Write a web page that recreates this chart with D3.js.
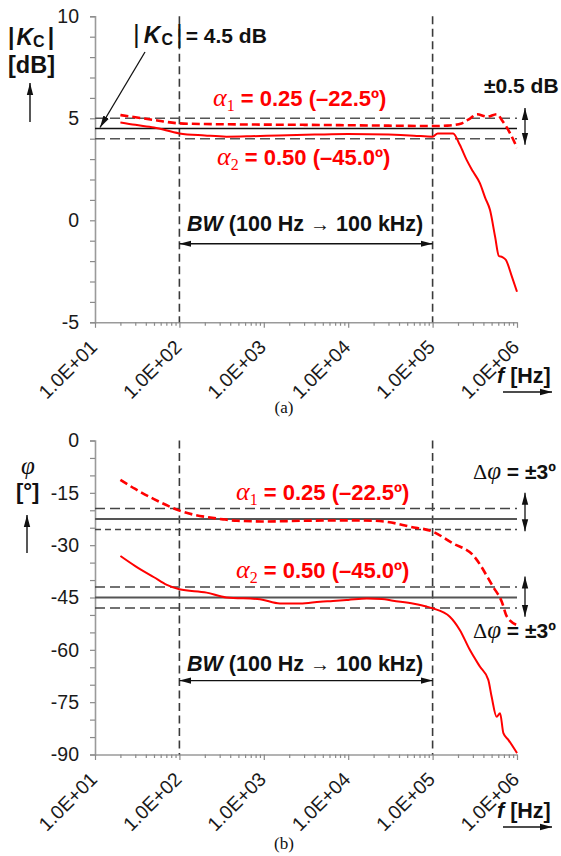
<!DOCTYPE html>
<html>
<head>
<meta charset="utf-8">
<script src="https://cdn.jsdelivr.net/npm/d3@7"></script>
<style>
  body { margin: 0; background: #fff; }
  svg { display: block; }
</style>
</head>
<body>
<svg id="fig" width="561" height="856"></svg>
<script>
// ---- Measured data: frequency [Hz] and response for the two compensators ----
// (a) magnitude |Kc| [dB]
const magFreqA1 = [20, 30, 50, 100, 200, 500, 1000, 3000, 10000, 30000, 100000, 150000, 220000, 280000, 336000, 440000, 580000, 660000, 830000, 1000000];
const magA1     = [5.16, 5.05, 4.92, 4.75, 4.72, 4.70, 4.69, 4.68, 4.66, 4.64, 4.62, 4.64, 4.75, 5.0, 5.2, 5.08, 5.2, 4.92, 4.26, 3.55];

const magFreqA2 = [20, 30, 50, 100, 200, 360, 700, 1500, 4000, 10000, 30000, 60000, 100000, 115000, 175000, 210000, 253000, 300000, 363000, 420000, 479000, 550000, 610000, 670000, 740000, 870000, 1000000];
const magA2     = [4.8, 4.68, 4.55, 4.26, 4.16, 4.1, 4.12, 4.16, 4.2, 4.23, 4.2, 4.15, 4.1, 4.26, 4.26, 3.7, 2.96, 2.4, 1.82, 1.1, 0.5, -0.8, -1.75, -1.8, -1.95, -2.76, -3.5];

// (b) phase φ [°]
const phFreqA1 = [20, 30, 50, 70, 100, 150, 220, 330, 480, 1000, 3000, 10000, 20000, 28600, 54000, 100000, 174000, 300000, 520000, 660000, 760000, 1000000];
const phA1     = [-11.3, -13.9, -16.8, -18.5, -20.1, -21.3, -22.0, -22.6, -23.0, -23.2, -23.0, -22.9, -23.0, -23.3, -24.7, -26.1, -29.5, -32.8, -41.9, -46.2, -50.5, -52.9];

const phFreqA2 = [20, 30, 50, 71, 100, 210, 360, 900, 1550, 2700, 4650, 6600, 10000, 16600, 25000, 33900, 60000, 85000, 100000, 160000, 210000, 276000, 363000, 457000, 500000, 574000, 630000, 690000, 790000, 1000000];
const phA2     = [-33.1, -36.0, -39.2, -41.4, -42.65, -43.6, -45.0, -45.5, -46.7, -46.7, -46.2, -46.0, -45.7, -45.3, -45.4, -45.9, -46.8, -47.6, -48.1, -50.5, -54.3, -60.0, -64.8, -68.6, -73.4, -79.2, -78.2, -83.9, -85.8, -89.6];

// Target levels and tolerance bands
const magTarget = 4.5, magTol = 0.5;
const phTargets = [-22.5, -45.0], phTol = 3;
const bandEdges = [100, 100000];           // BW limits [Hz]
const magTicks = d3.range(-5, 11, 1);       // every 1 dB, labelled every 5
const phTicks  = d3.range(-90, 1, 5);       // every 5°, labelled every 15
const decades  = [10, 100, 1000, 10000, 100000, 1000000];

// ---- Layout ----
const SANS = "'Liberation Sans', Arial, Helvetica, sans-serif";
const SERIF = "'Liberation Serif', 'Times New Roman', serif";
const RED = "#ff0000";
const svg = d3.select("#fig");

const x = d3.scaleLog().domain([10, 1e6]).range([95, 517]);
const yMag = d3.scaleLinear().domain([-5, 10]).range([322.3, 16.3]);
const yPh  = d3.scaleLinear().domain([-90, 0]).range([754.5, 440.5]);

// arrow markers
const defs = svg.append("defs");
function marker(id, orient) {
  defs.append("marker")
    .attr("id", id).attr("viewBox", "0 0 12 8")
    .attr("refX", 12).attr("refY", 4)
    .attr("markerWidth", 12).attr("markerHeight", 8)
    .attr("markerUnits", "userSpaceOnUse")
    .attr("orient", orient)
    .append("path").attr("d", "M0,0.8 L12,4 L0,7.2 Z").attr("fill", "#111");
}
marker("ah", "auto");
marker("ahs", "auto-start-reverse");

// log minor tick values
const xTicks = [];
decades.slice(0, -1).forEach(d => { for (let k = 1; k < 10; k++) xTicks.push(d * k); });
xTicks.push(1e6);
const isDecade = v => Math.abs(Math.log10(v) - Math.round(Math.log10(v))) < 1e-9;
const fmtE = v => "1.0E+" + String(Math.round(Math.log10(v))).padStart(2, "0");

function drawAxes(g, y, yTicks, labelEvery, y0) {
  // y axis
  const ay = g.append("g").attr("transform", `translate(${x.range()[0]},0)`)
    .call(d3.axisLeft(y).tickValues(yTicks).tickSize(5).tickPadding(11)
      .tickFormat(v => (v % labelEvery === 0 ? String(v) : "")));
  // x axis
  const ax = g.append("g").attr("transform", `translate(0,${y0})`)
    .call(d3.axisBottom(x).tickValues(xTicks).tickSizeOuter(0)
      .tickFormat(v => (isDecade(v) ? fmtE(v) : "")));
  ax.selectAll(".tick line").attr("y2", v => (isDecade(v) ? 5.5 : 3.5));
  ax.selectAll(".tick text")
    .attr("y", 0).attr("dy", 0)
    .attr("text-anchor", "end")
    .attr("transform", "translate(3,26) rotate(-45)");
  [ay, ax].forEach(a => {
    a.select(".domain").attr("stroke", "#9a9a9a").attr("stroke-width", 1.6);
    a.selectAll(".tick line").attr("stroke", "#8a8a8a").attr("stroke-width", 1.2);
    a.selectAll(".tick text").attr("fill", "#1a1a1a")
      .style("font-family", SANS).style("font-size", "19.5px");
  });
}

function hline(g, y, v, dash, color, w) {
  g.append("line")
    .attr("x1", x.range()[0]).attr("x2", x.range()[1])
    .attr("y1", y(v)).attr("y2", y(v))
    .attr("stroke", color).attr("stroke-width", w)
    .attr("stroke-dasharray", dash);
}
function vlines(g, y) {
  bandEdges.forEach(f => g.append("line")
    .attr("x1", x(f)).attr("x2", x(f))
    .attr("y1", y.range()[1]).attr("y2", y.range()[0])
    .attr("stroke", "#3a3a3a").attr("stroke-width", 1.6)
    .attr("stroke-dasharray", "8,4.5"));
}
function curve(g, fs, vs, y, dashed) {
  const pts = fs.map((f, i) => [f, vs[i]]);
  g.append("path").datum(pts)
    .attr("fill", "none").attr("stroke", RED)
    .attr("stroke-width", dashed ? 2.6 : 2)
    .attr("stroke-dasharray", dashed ? "8,4" : null)
    .attr("stroke-linejoin", "round")
    .attr("d", d3.line().x(d => x(d[0])).y(d => y(d[1])).curve(d3.curveMonotoneX));
}
function arrow(g, x1, y1, x2, y2, both, w) {
  g.append("line").attr("x1", x1).attr("y1", y1).attr("x2", x2).attr("y2", y2)
    .attr("stroke", "#111").attr("stroke-width", w || 1.3)
    .attr("marker-end", "url(#ah)")
    .attr("marker-start", both ? "url(#ahs)" : null);
}
function alphaLabel(g, px, py, idx, rest) {
  const t = g.append("text").attr("x", px).attr("y", py).attr("fill", RED);
  t.append("tspan").text("α").style("font-family", SERIF).style("font-style", "italic").style("font-size", "26px");
  t.append("tspan").text(idx).attr("dy", 5).style("font-family", SERIF).style("font-size", "16px");
  t.append("tspan").text(" = " + rest).attr("dy", -5)
    .style("font-family", SANS).style("font-weight", "bold").style("font-size", "22px");
}
function bwLabel(g, y, vText, vArrow) {
  const t = g.append("text").attr("x", 187).attr("y", y(vText)).attr("fill", "#111")
    .style("font-family", SANS).style("font-weight", "bold").style("font-size", "21.5px");
  t.append("tspan").text("BW").style("font-style", "italic");
  t.append("tspan").text(" (100 Hz ");
  t.append("tspan").text("→").style("font-weight", "normal").style("font-size", "20px");
  t.append("tspan").text(" 100 kHz)");
  arrow(g, x(bandEdges[0]), y(vArrow), x(bandEdges[1]), y(vArrow), true, 1.3);
}
function fLabel(g, yBase) {
  const t = g.append("text").attr("x", 497).attr("y", yBase).attr("fill", "#111")
    .style("font-family", SANS).style("font-weight", "bold").style("font-size", "21.5px");
  t.append("tspan").text("f").style("font-style", "italic");
  t.append("tspan").text(" [Hz]");
  arrow(g, 503, yBase + 9, 552, yBase + 9, false, 1.3);
}
function deltaPhi(g, px, py) {
  const t = g.append("text").attr("x", px).attr("y", py).attr("fill", "#111");
  t.append("tspan").text("Δ").style("font-family", SERIF).style("font-size", "22px");
  t.append("tspan").text("φ").style("font-family", SERIF).style("font-style", "italic").style("font-size", "25px");
  t.append("tspan").text(" = ±3º").style("font-family", SANS).style("font-weight", "bold").style("font-size", "21px");
}

// ================= (a) magnitude =================
const gA = svg.append("g");
drawAxes(gA, yMag, magTicks, 5, yMag.range()[0]);
vlines(gA, yMag);
hline(gA, yMag, magTarget + magTol, "10,5", "#555", 1.6);
hline(gA, yMag, magTarget - magTol, "10,5", "#555", 1.6);
hline(gA, yMag, magTarget, null, "#111", 1.5);
curve(gA, magFreqA1, magA1, yMag, true);
curve(gA, magFreqA2, magA2, yMag, false);

// y label |Kc| [dB]
{
  const t = gA.append("text").attr("x", 8).attr("y", 45).attr("fill", "#111")
    .style("font-family", SANS).style("font-weight", "bold").style("font-size", "23px");
  t.append("tspan").text("|");
  t.append("tspan").text("K").style("font-style", "italic").attr("dx", 2);
  t.append("tspan").text("C").style("font-size", "16px").attr("dy", 2);
  t.append("tspan").text("|").attr("dy", -2).attr("dx", 3);
  gA.append("text").attr("x", 8).attr("y", 73).attr("fill", "#111")
    .style("font-family", SANS).style("font-weight", "bold").style("font-size", "23.5px").text("[dB]");
  arrow(gA, 30, 122, 30, 83, false, 1.4);
}
// |Kc| = 4.5 dB annotation
{
  const t = gA.append("text").attr("x", 133).attr("y", 43).attr("fill", "#111")
    .style("font-family", SANS).style("font-weight", "bold").style("font-size", "21px");
  t.append("tspan").text("|").style("font-weight", "normal").style("font-size", "26px");
  t.append("tspan").text("K").style("font-style", "italic").style("font-size", "23px").attr("dx", 4);
  t.append("tspan").text("C").style("font-size", "16px").attr("dy", 2).attr("dx", 1);
  t.append("tspan").text("|").style("font-weight", "normal").style("font-size", "26px").attr("dy", -2).attr("dx", 3);
  t.append("tspan").text("= 4.5 dB").attr("dx", 3);
  arrow(gA, 145, 52, x(10) + 5, yMag(magTarget) - 1, false, 1.3);
}
alphaLabel(gA, 213, 106, "1", "0.25 (–22.5º)");
alphaLabel(gA, 217, 165, "2", "0.50 (–45.0º)");
gA.append("text").attr("x", 484).attr("y", 93).attr("fill", "#111")
  .style("font-family", SANS).style("font-weight", "bold").style("font-size", "21px").text("±0.5 dB");
arrow(gA, 525, yMag(5.5), 525, yMag(3.7), true, 1.3);
bwLabel(gA, yMag, -0.52, -1.15);
fLabel(gA, 383);
gA.append("text").attr("x", 284).attr("y", 413).attr("text-anchor", "middle").attr("fill", "#111")
  .style("font-family", SERIF).style("font-size", "17px").text("(a)");

// ================= (b) phase =================
const gB = svg.append("g");
drawAxes(gB, yPh, phTicks, 15, yPh.range()[0]);
vlines(gB, yPh);
hline(gB, yPh, phTargets[0] + phTol, "10,5", "#444", 1.6);
hline(gB, yPh, phTargets[0] - phTol, "6,4", "#444", 1.6);
hline(gB, yPh, phTargets[0], null, "#555", 2);
hline(gB, yPh, phTargets[1] + phTol, "10,5", "#444", 1.6);
hline(gB, yPh, phTargets[1] - phTol, "10,5", "#444", 1.6);
hline(gB, yPh, phTargets[1], null, "#555", 2);
curve(gB, phFreqA1, phA1, yPh, true);
curve(gB, phFreqA2, phA2, yPh, false);

// y label φ [°]
gB.append("text").attr("x", 21).attr("y", 474).attr("fill", "#111")
  .style("font-family", SERIF).style("font-style", "italic").style("font-size", "25px").text("φ");
gB.append("text").attr("x", 16).attr("y", 499).attr("fill", "#111")
  .style("font-family", SANS).style("font-weight", "bold").style("font-size", "22px").text("[°]");
arrow(gB, 27, 553, 27, 515, false, 1.4);

alphaLabel(gB, 236, 500, "1", "0.25 (–22.5º)");
alphaLabel(gB, 236, 578, "2", "0.50 (–45.0º)");
deltaPhi(gB, 473, 479);
deltaPhi(gB, 473, 638);
arrow(gB, 525, yPh(-15), 525, yPh(-26), true, 1.3);
arrow(gB, 525, yPh(-39), 525, yPh(-50.5), true, 1.3);
bwLabel(gB, yPh, -66, -68.8);
fLabel(gB, 818);
gB.append("text").attr("x", 284).attr("y", 849).attr("text-anchor", "middle").attr("fill", "#111")
  .style("font-family", SERIF).style("font-size", "17px").text("(b)");
</script>
</body>
</html>
